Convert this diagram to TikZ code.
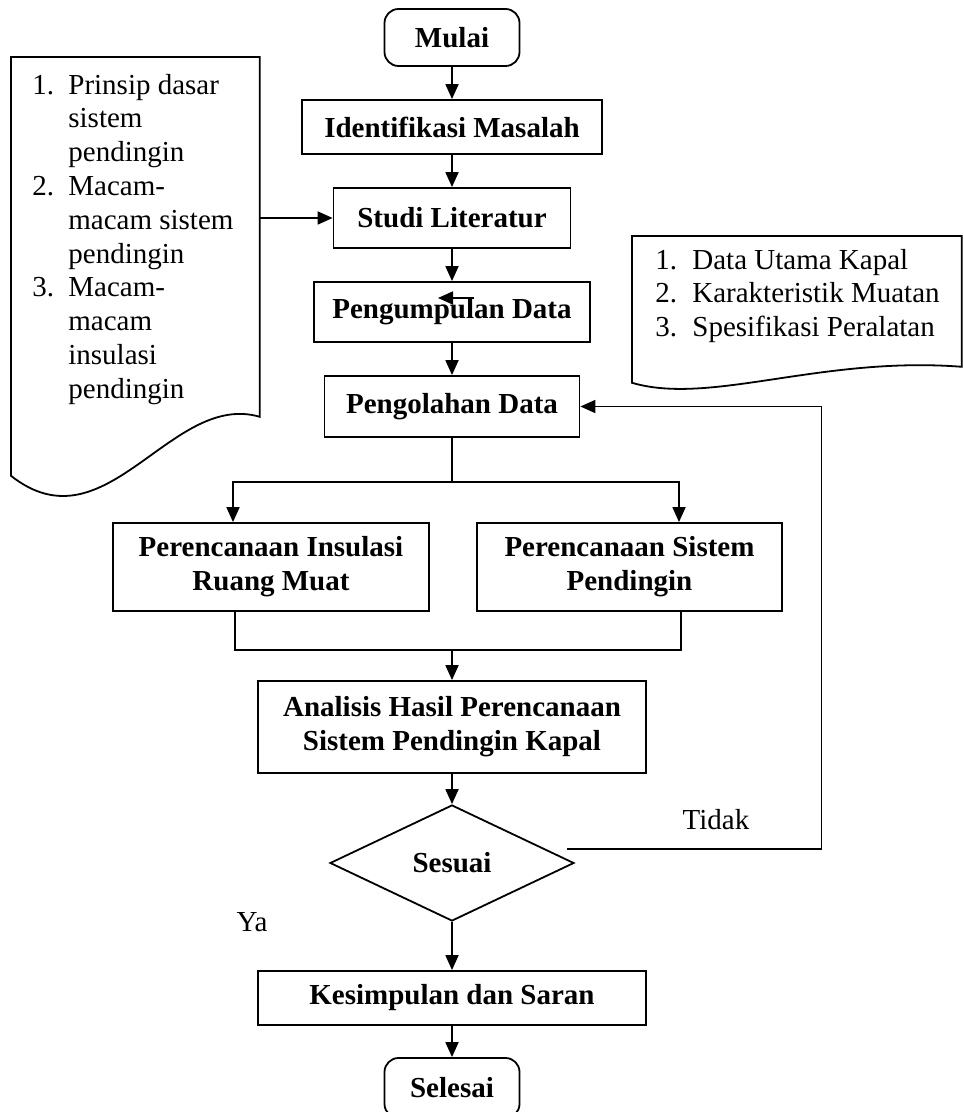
\documentclass[tikz,border=0pt]{standalone}
\usepackage{fontspec}
\setmainfont{Liberation Serif}
\usetikzlibrary{shapes.geometric, arrows.meta, positioning}
\tikzset{
    terminal/.style={rectangle, draw, line width=0.9pt, rounded corners=7pt, font=\bfseries, minimum width=67.5pt, minimum height=28.5pt},
    prosesbox/.style={rectangle, draw, line width=0.9pt, font=\bfseries, align=center, inner sep=2pt},
    keputusan/.style={diamond, draw, line width=0.9pt, font=\bfseries, inner sep=0pt, minimum width=122pt, minimum height=58pt},
    dokumen/.style={rectangle, inner sep=0pt, anchor=north west},
    daftar/.style={inner sep=0pt, anchor=north west},
    teks/.style={inner sep=0pt},
    arrow/.style={line width=0.9pt, -{Triangle[length=7.5pt, width=6.5pt]}},
    line/.style={line width=0.9pt}
}
\begin{document}
\fontsize{14.5}{16.9}\selectfont
\begin{tikzpicture}[x=0.5pt, y=-0.5pt, node distance=16.1pt]
    \useasboundingbox (0,0) rectangle (963,1112);

    % alur utama
    \node (mulai) [terminal] at (452,37.5) {Mulai};
    \node (identifikasi) [prosesbox, below=of mulai, minimum width=150pt, minimum height=27pt] {Identifikasi Masalah};
    \node (studi) [prosesbox, below=of identifikasi, minimum width=118.5pt, minimum height=30pt] {Studi Literatur};
    \node (pengumpulan) [prosesbox, below=of studi, minimum width=138pt, minimum height=30pt] {Pengumpulan Data};
    \node (pengolahan) [prosesbox, below=of pengumpulan, minimum width=127.5pt, minimum height=30.5pt] {Pengolahan Data};
    \node (insulasi) [prosesbox, below=42.1pt of pengolahan, xshift=-90.5pt, minimum width=158pt, minimum height=44pt] {Perencanaan Insulasi\\Ruang Muat};
    \node (sistem) [prosesbox, below=42.1pt of pengolahan, xshift=88.75pt, minimum width=152.5pt, minimum height=44pt] {Perencanaan Sistem\\Pendingin};
    \node (analisis) [prosesbox, below=121.1pt of pengolahan, minimum width=194pt, minimum height=46pt] {Analisis Hasil Perencanaan\\Sistem Pendingin Kapal};
    \node (sesuai) [keputusan, below=15.1pt of analisis] {Sesuai};
    \node (kesimpulan) [prosesbox, below=24.1pt of sesuai, minimum width=194pt, minimum height=27pt] {Kesimpulan dan Saran};
    \node (selesai) [terminal, below=15.6pt of kesimpulan, minimum height=30pt] {Selesai};

    % dokumen masukan
    \node (teori) [dokumen, minimum width=124pt, minimum height=179.5pt] at (11,57) {};
    \draw [line] (teori.south east) -- (teori.north east) -- (teori.north west) -- ([yshift=-29.5pt]teori.south west)
        .. controls +(95,75) and +(-89,-26) .. (teori.south east) -- cycle;
    \node (teoriisi) [daftar] at (32,70) {\begin{tabular}{@{}p{18pt}@{}l@{}}
        1. & Prinsip dasar\\ & sistem\\ & pendingin\\
        2. & Macam-\\ & macam sistem\\ & pendingin\\
        3. & Macam-\\ & macam\\ & insulasi\\ & pendingin
    \end{tabular}};

    \node (datakapal) [dokumen, minimum width=164.5pt, minimum height=73pt] at (632,236) {};
    \draw [line] (datakapal.south west) -- (datakapal.north west) -- (datakapal.north east) -- ([yshift=8pt]datakapal.south east)
        .. controls +(-141,-11) and +(78,23) .. (datakapal.south west) -- cycle;
    \node (datakapalisi) [daftar] at (655,245) {\begin{tabular}{@{}p{18.5pt}@{}l@{}}
        1. & Data Utama Kapal\\
        2. & Karakteristik Muatan\\
        3. & Spesifikasi Peralatan
    \end{tabular}};

    % penghubung
    \draw [arrow] (mulai) -- (identifikasi);
    \draw [arrow] (identifikasi) -- (studi);
    \draw [arrow] (studi) -- (pengumpulan);
    \draw [arrow] (pengumpulan) -- (pengolahan);
    \draw [arrow] (teori.east |- studi.west) -- (studi.west);
    \coordinate (sisa) at (474,298);
    \draw [arrow] (sisa) -- ++(-18pt,0);

    \draw [line] (pengolahan.south) -- ++(0,-22pt) coordinate (cabang);
    \draw [arrow] (cabang) -| ([xshift=-19pt]insulasi.north);
    \draw [arrow] (cabang) -| ([xshift=24.75pt]sistem.north);
    \draw [line] ([xshift=-18pt]insulasi.south) -- ++(0,-19pt) coordinate (gabung) -| ([xshift=25.75pt]sistem.south);
    \draw [arrow] (gabung -| analisis.north) -- (analisis.north);

    \draw [arrow] (analisis) -- (sesuai);
    \draw [arrow] (sesuai) -- (kesimpulan);
    \draw [arrow] (kesimpulan) -- (selesai);
    \draw [arrow] ([xshift=-4pt, yshift=7pt]sesuai.east) -| ([xshift=120.5pt]pengolahan.east) -- (pengolahan.east);

    \node (tidak) [teks] at (716,820) {Tidak};
    \node (ya) [teks] at (252,922) {Ya};
\end{tikzpicture}
\end{document}
